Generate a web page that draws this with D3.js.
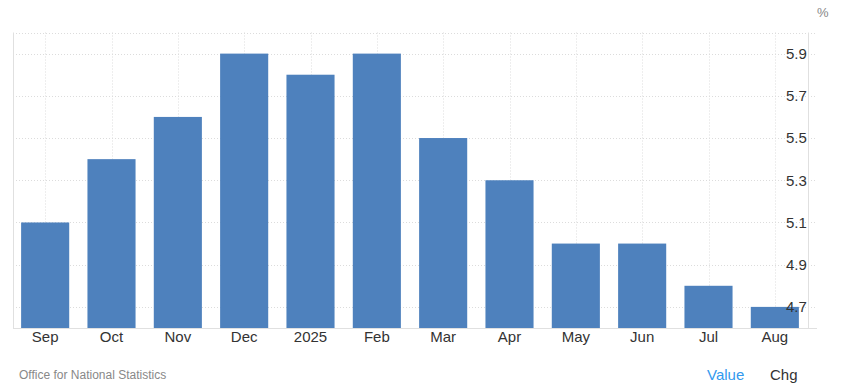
<!DOCTYPE html>
<html>
<head>
<meta charset="utf-8">
<style>
body { margin: 0; background: #fff; }
svg { font-family: "Liberation Sans", Arial, sans-serif; }
.grid line { stroke: #dcdcdc; stroke-dasharray: 1,2; }
</style>
</head>
<body>
<svg width="842" height="392"></svg>
<script src="https://d3js.org/d3.v7.min.js"></script>
<script>
// months and unemployment rate (%)
var months = ["Sep", "Oct", "Nov", "Dec", "2025", "Feb", "Mar", "Apr", "May", "Jun", "Jul", "Aug"];
var values = [5.1, 5.4, 5.6, 5.9, 5.8, 5.9, 5.5, 5.3, 5.0, 5.0, 4.8, 4.7];
var yTicks = [4.7, 4.9, 5.1, 5.3, 5.5, 5.7, 5.9];

var svg = d3.select("svg");
// note: "top" is reserved on window, so use plotTop
var plotLeft = 12, plotRight = 808, plotTop = 32.5, plotBottom = 328;

var x = d3.scaleBand()
  .domain(months)
  .range([plotLeft, plotRight])
  .paddingInner(0.275)
  .paddingOuter(0.1375);

var y = d3.scaleLinear()
  .domain([4.6, 6.0])
  .range([plotBottom, plotTop]);

// dotted grid
var grid = svg.append("g").attr("class", "grid");
grid.selectAll(".h")
  .data(yTicks.concat([6.0]))
  .enter().append("line")
    .attr("x1", 13).attr("x2", 817)
    .attr("y1", function(d) { return Math.round(y(d)) + 0.5; })
    .attr("y2", function(d) { return Math.round(y(d)) + 0.5; });
grid.selectAll(".v")
  .data(months)
  .enter().append("line")
    .attr("x1", function(d) { return Math.round(x(d) + x.bandwidth() / 2) + 0.5; })
    .attr("x2", function(d) { return Math.round(x(d) + x.bandwidth() / 2) + 0.5; })
    .attr("y1", plotTop).attr("y2", plotBottom);

// frame lines
svg.append("line").attr("x1", 13.5).attr("x2", 13.5)
  .attr("y1", plotTop).attr("y2", plotBottom).attr("stroke", "#e0e0e0");
svg.append("line").attr("x1", 808.5).attr("x2", 808.5)
  .attr("y1", plotTop).attr("y2", plotBottom).attr("stroke", "#e0e0e0");

// bars
svg.append("g").selectAll("rect")
  .data(values)
  .enter().append("rect")
    .attr("x", function(d, i) { return x(months[i]); })
    .attr("y", function(d) { return y(d); })
    .attr("width", x.bandwidth())
    .attr("height", function(d) { return plotBottom - y(d); })
    .attr("fill", "#4e81bd");

svg.append("line").attr("x1", 13).attr("x2", 817)
  .attr("y1", plotBottom + 0.5).attr("y2", plotBottom + 0.5).attr("stroke", "#e0e0e0");

// x axis labels
var xAxis = svg.append("g")
  .attr("transform", "translate(0," + plotBottom + ")")
  .call(d3.axisBottom(x).tickSize(0).tickPadding(3));
xAxis.select(".domain").remove();
xAxis.selectAll("text").attr("font-size", 15).attr("fill", "#333")
  .attr("font-family", "Liberation Sans, Arial, sans-serif");

// y axis labels on the right
var yAxis = svg.append("g")
  .attr("transform", "translate(" + 786 + ",0)")
  .call(d3.axisRight(y).tickValues(yTicks).tickSize(0).tickPadding(0).tickFormat(d3.format(".1f")));
yAxis.select(".domain").remove();
yAxis.selectAll("text").attr("font-size", 15).attr("fill", "#333")
  .attr("font-family", "Liberation Sans, Arial, sans-serif");

svg.append("text").attr("x", 817).attr("y", 17).attr("font-size", 13)
  .attr("fill", "#888").text("%");

svg.append("text").attr("x", 19).attr("y", 379).attr("font-size", 12)
  .attr("fill", "#888").text("Office for National Statistics");
svg.append("text").attr("x", 707).attr("y", 380).attr("font-size", 15)
  .attr("fill", "#3399ee").text("Value");
svg.append("text").attr("x", 770).attr("y", 380).attr("font-size", 15)
  .attr("fill", "#333").text("Chg");
</script>
</body>
</html>
